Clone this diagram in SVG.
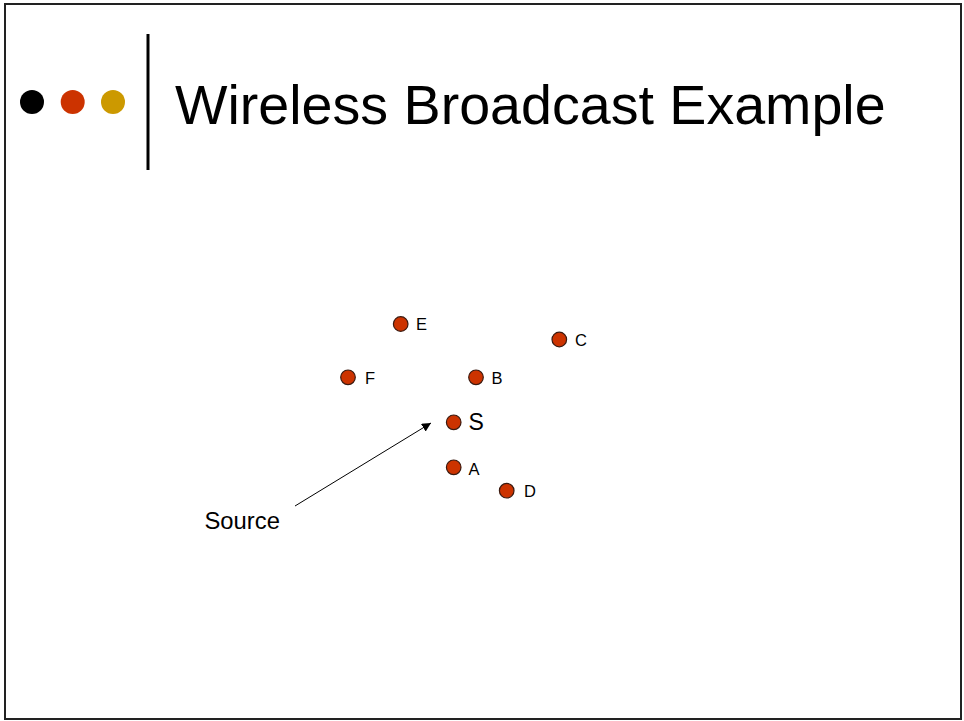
<svg xmlns="http://www.w3.org/2000/svg" width="964" height="721" viewBox="0 0 964 721">
  <style>
    text { font-family: "Liberation Sans", Arial, sans-serif; fill: #000; }
    .node { fill: #CC3300; stroke: #3a1a10; stroke-width: 1.2; }
    .lbl { font-size: 16.5px; }
    .big { font-size: 23px; }
  </style>
  <defs>
    <marker id="arrowhead" viewBox="0 0 10 10" refX="10" refY="5" markerWidth="9" markerHeight="9" markerUnits="userSpaceOnUse" orient="auto">
      <path d="M0,0 L10,5 L0,10 Z" fill="#000"/>
    </marker>
  </defs>

  <!-- slide frame -->
  <rect x="5" y="4" width="956" height="715" fill="#fff" stroke="#222" stroke-width="2"/>

  <!-- header decoration -->
  <g id="header">
    <circle cx="32" cy="102" r="12" fill="#000"/>
    <circle cx="72.7" cy="102" r="12" fill="#CC3300"/>
    <circle cx="113" cy="102" r="12" fill="#CC9900"/>
    <line x1="148" y1="34" x2="148" y2="170" stroke="#000" stroke-width="3"/>
    <text x="175" y="123.5" font-size="55.6">Wireless Broadcast Example</text>
  </g>

  <!-- connectors -->
  <g id="connectors">
    <line x1="295" y1="506" x2="431" y2="423" stroke="#000" stroke-width="1" marker-end="url(#arrowhead)"/>
  </g>

  <!-- nodes -->
  <g id="node-E"><circle class="node" cx="400.7" cy="324" r="7.3"/><text class="lbl" x="416" y="330">E</text></g>
  <g id="node-C"><circle class="node" cx="559.3" cy="339.5" r="7.3"/><text class="lbl" x="575" y="346">C</text></g>
  <g id="node-F"><circle class="node" cx="348" cy="377.3" r="7.3"/><text class="lbl" x="365" y="384">F</text></g>
  <g id="node-B"><circle class="node" cx="476" cy="377.3" r="7.3"/><text class="lbl" x="491.5" y="384">B</text></g>
  <g id="node-S"><circle class="node" cx="453.7" cy="422.3" r="7.3"/><text class="big" x="468.5" y="429.5">S</text></g>
  <g id="node-A"><circle class="node" cx="453.7" cy="467.3" r="7.3"/><text class="lbl" x="468.5" y="475">A</text></g>
  <g id="node-D"><circle class="node" cx="506.7" cy="490.7" r="7.3"/><text class="lbl" x="524" y="497">D</text></g>

  <!-- source label -->
  <g id="label-source">
    <text x="204.5" y="528.5" font-size="23.8">Source</text>
  </g>
</svg>
